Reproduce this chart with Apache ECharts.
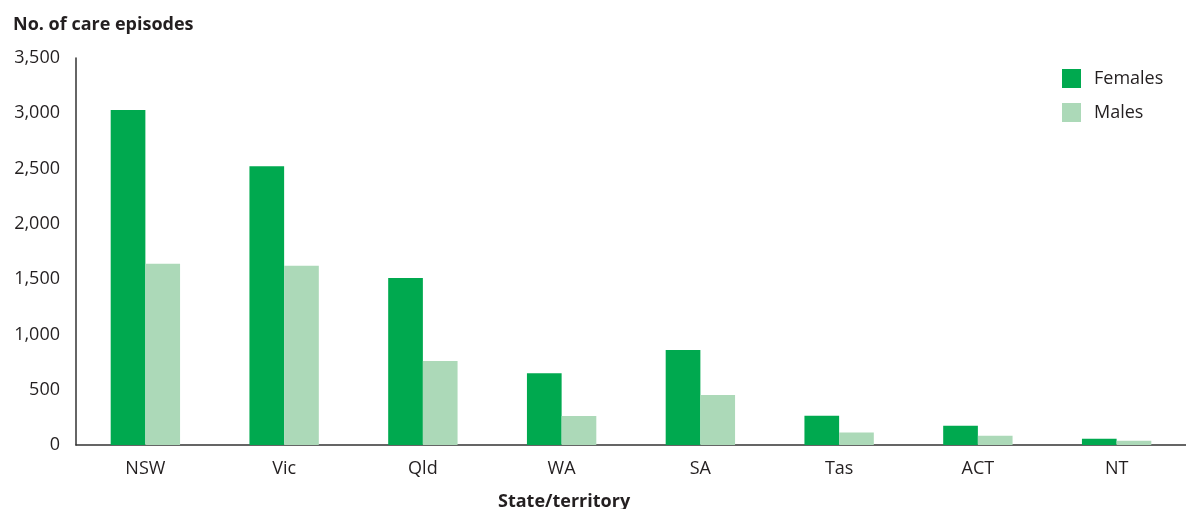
<!DOCTYPE html>
<html><head><meta charset="utf-8">
<script src="https://cdn.jsdelivr.net/npm/echarts@6/dist/echarts.min.js"></script>
<style>html,body{margin:0;padding:0;background:#fff}#c{width:1186px;height:509px}</style>
</head><body><div id="c"></div>
<script>
const categories = ['NSW','Vic','Qld','WA','SA','Tas','ACT','NT'];
const females = [3030, 2520, 1510, 650, 860, 265, 175, 57];
const males = [1640, 1620, 760, 262, 452, 112, 84, 39];
const yTicks = [0, 500, 1000, 1500, 2000, 2500, 3000, 3500];

const font = 'Open Sans';
const chart = echarts.init(document.getElementById('c'));
chart.setOption({
  animation: false,
  textStyle: { fontFamily: font },
  grid: { left: 76, right: 0, top: 58, bottom: 64 },
  legend: {
    data: ['Females','Males'],
    orient: 'vertical', left: 1057, top: 64,
    itemWidth: 19, itemHeight: 19, itemGap: 15,
    icon: 'rect',
    textStyle: { fontSize: 18, color: '#231f20', fontFamily: font, padding: [0,0,0,8] }
  },
  xAxis: {
    type: 'category', data: categories,
    axisLine: { lineStyle: { color: '#333', width: 1.5 } },
    axisTick: { show: false },
    axisLabel: { fontSize: 18, color: '#231f20', margin: 15 }
  },
  yAxis: {
    type: 'value', min: yTicks[0], max: yTicks[yTicks.length-1], interval: 500,
    axisLine: { show: true, lineStyle: { color: '#333', width: 1.5 } },
    axisTick: { show: false },
    splitLine: { show: false },
    axisLabel: { fontSize: 18, color: '#231f20', margin: 16,
      formatter: v => v.toLocaleString('en-US') }
  },
  graphic: [
    { type: 'text', left: 13, top: 16, style: { text: 'No. of care episodes', fontSize: 18, fontWeight: 'bold', fill: '#231f20', fontFamily: font } },
    { type: 'text', left: 498, top: 493, style: { text: 'State/territory', fontSize: 18, fontWeight: 'bold', fill: '#231f20', fontFamily: font } }
  ],
  series: [
    { name: 'Females', type: 'bar', data: females, itemStyle: { color: '#00a94f' }, barGap: '0%', barCategoryGap: '50%' },
    { name: 'Males', type: 'bar', data: males, itemStyle: { color: '#acd9b8' }, barGap: '0%', barCategoryGap: '50%' }
  ]
});
</script></body></html>
